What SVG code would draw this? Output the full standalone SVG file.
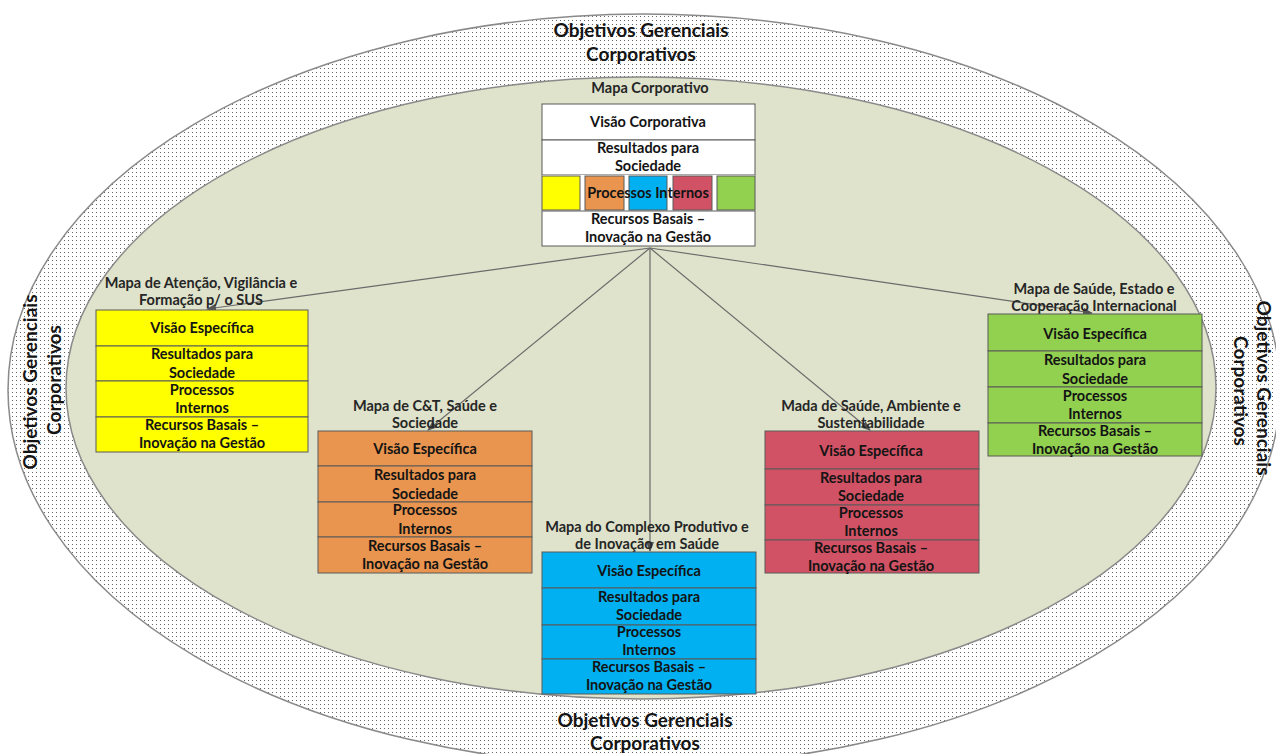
<svg xmlns="http://www.w3.org/2000/svg" width="1276" height="754" viewBox="0 0 1276 754">
<style>
.t{font-family:Lato,"Liberation Sans",sans-serif;font-weight:bold;font-size:14.5px;fill:#141414;text-anchor:middle}
.lbl{font-family:Lato,"Liberation Sans",sans-serif;font-weight:bold;font-size:14.5px;fill:#262626;text-anchor:middle}
.big{font-family:Lato,"Liberation Sans",sans-serif;font-weight:bold;font-size:19px;fill:#141414;text-anchor:middle}
.row{stroke:#5a5a5a;stroke-width:1}
.y{fill:#ffff00}.o{fill:#ea954f}.b{fill:#00b0f0}.r{fill:#d15264}.g{fill:#92d050}.w{fill:#ffffff}
.conn{stroke:#6a6a6a;stroke-width:1.2;fill:none}
</style>
<defs>
<pattern id="dots" width="4" height="4" patternUnits="userSpaceOnUse">
<rect width="4" height="4" fill="#ffffff"/>
<rect x="0" y="0" width="1" height="1" fill="#666"/>
</pattern>
<marker id="arr" markerWidth="10" markerHeight="8" refX="9" refY="4" orient="auto" markerUnits="userSpaceOnUse">
<path d="M0,0 L10,4 L0,8 Z" fill="#555"/>
</marker>
</defs>
<rect width="1276" height="754" fill="#ffffff"/>
<g id="outer">
<ellipse cx="644" cy="390" rx="636" ry="376" fill="url(#dots)" stroke="#8a8a8a" stroke-width="1.5"/>
<text class="big" x="641" y="37">Objetivos Gerenciais</text>
<text class="big" x="641" y="61">Corporativos</text>
<text class="big" x="645" y="727">Objetivos Gerenciais</text>
<text class="big" x="645" y="750">Corporativos</text>
<text class="big" transform="translate(37,382) rotate(-90)">Objetivos Gerenciais</text>
<text class="big" transform="translate(61,380) rotate(-90)">Corporativos</text>
<text class="big" transform="translate(1257,388) rotate(90)">Objetivos Gerenciais</text>
<text class="big" transform="translate(1234,391) rotate(90)">Corporativos</text>
</g>
<g id="inner">
<ellipse cx="641" cy="388" rx="575" ry="311" fill="#dfe3cb" stroke="#8a8a8a" stroke-width="1.5"/>
</g>
<g id="corporativo">
<text class="lbl" x="650" y="93">Mapa Corporativo</text>
<rect class="row w" x="542" y="104" width="213" height="36"/>
<rect class="row w" x="542" y="140" width="213" height="35"/>
<rect class="w" x="542" y="175" width="213" height="36" stroke="none"/>
<rect class="row y" x="542" y="176" width="38" height="34"/>
<rect class="row o" x="585" y="176" width="39" height="34"/>
<rect class="row b" x="629" y="176" width="38" height="34"/>
<rect class="row r" x="673" y="176" width="39" height="34"/>
<rect class="row g" x="717" y="176" width="38" height="34"/>
<rect class="row w" x="542" y="211" width="213" height="35"/>
<text class="t" x="648" y="127">Visão Corporativa</text>
<text class="t" x="648" y="153">Resultados para</text>
<text class="t" x="648" y="171">Sociedade</text>
<text class="t" x="648" y="198">Processos Internos</text>
<text class="t" x="648" y="224">Recursos Basais –</text>
<text class="t" x="648" y="242">Inovação na Gestão</text>
</g>
<g id="connectors">
<line class="conn" x1="650" y1="248" x2="207" y2="309" marker-end="url(#arr)"/>
<line class="conn" x1="650" y1="248" x2="428" y2="430" marker-end="url(#arr)"/>
<line class="conn" x1="650" y1="248" x2="650" y2="551" marker-end="url(#arr)"/>
<line class="conn" x1="650" y1="248" x2="870" y2="430" marker-end="url(#arr)"/>
<line class="conn" x1="650" y1="248" x2="1092" y2="313" marker-end="url(#arr)"/>
</g>
<g id="atencao">
<text class="lbl" x="201" y="288">Mapa de Atenção, Vigilância e</text>
<text class="lbl" x="201" y="305">Formação p/ o SUS</text>
<rect class="row y" x="96" y="310" width="212" height="36"/>
<rect class="row y" x="96" y="346" width="212" height="35"/>
<rect class="row y" x="96" y="381" width="212" height="36"/>
<rect class="row y" x="96" y="417" width="212" height="35"/>
<text class="t" x="202" y="333">Visão Específica</text>
<text class="t" x="202" y="359">Resultados para</text>
<text class="t" x="202" y="378">Sociedade</text>
<text class="t" x="202" y="395">Processos</text>
<text class="t" x="202" y="413">Internos</text>
<text class="t" x="202" y="430">Recursos Basais –</text>
<text class="t" x="202" y="448">Inovação na Gestão</text>
</g>
<g id="ct">
<text class="lbl" x="425" y="411">Mapa de C&amp;T, Saúde e</text>
<text class="lbl" x="425" y="428">Sociedade</text>
<rect class="row o" x="318" y="431" width="214" height="35"/>
<rect class="row o" x="318" y="466" width="214" height="36"/>
<rect class="row o" x="318" y="502" width="214" height="35"/>
<rect class="row o" x="318" y="537" width="214" height="36"/>
<text class="t" x="425" y="454">Visão Específica</text>
<text class="t" x="425" y="480">Resultados para</text>
<text class="t" x="425" y="499">Sociedade</text>
<text class="t" x="425" y="515">Processos</text>
<text class="t" x="425" y="534">Internos</text>
<text class="t" x="425" y="551">Recursos Basais –</text>
<text class="t" x="425" y="569">Inovação na Gestão</text>
</g>
<g id="complexo">
<text class="lbl" x="647" y="532">Mapa do Complexo Produtivo e</text>
<text class="lbl" x="647" y="549">de Inovação em Saúde</text>
<rect class="row b" x="542" y="552" width="214" height="36"/>
<rect class="row b" x="542" y="588" width="214" height="37"/>
<rect class="row b" x="542" y="625" width="214" height="34"/>
<rect class="row b" x="542" y="659" width="214" height="35"/>
<text class="t" x="649" y="576">Visão Específica</text>
<text class="t" x="649" y="602">Resultados para</text>
<text class="t" x="649" y="620">Sociedade</text>
<text class="t" x="649" y="637">Processos</text>
<text class="t" x="649" y="655">Internos</text>
<text class="t" x="649" y="672">Recursos Basais –</text>
<text class="t" x="649" y="690">Inovação na Gestão</text>
</g>
<g id="ambiente">
<text class="lbl" x="871" y="411">Mada de Saúde, Ambiente e</text>
<text class="lbl" x="871" y="428">Sustentabilidade</text>
<rect class="row r" x="765" y="431" width="214" height="38"/>
<rect class="row r" x="765" y="469" width="214" height="36"/>
<rect class="row r" x="765" y="505" width="214" height="35"/>
<rect class="row r" x="765" y="540" width="214" height="33"/>
<text class="t" x="871" y="456">Visão Específica</text>
<text class="t" x="871" y="483">Resultados para</text>
<text class="t" x="871" y="501">Sociedade</text>
<text class="t" x="871" y="518">Processos</text>
<text class="t" x="871" y="536">Internos</text>
<text class="t" x="871" y="553">Recursos Basais –</text>
<text class="t" x="871" y="571">Inovação na Gestão</text>
</g>
<g id="estado">
<text class="lbl" x="1094" y="294">Mapa de Saúde, Estado e</text>
<text class="lbl" x="1094" y="311">Cooperação Internacional</text>
<rect class="row g" x="988" y="314" width="214" height="37"/>
<rect class="row g" x="988" y="351" width="214" height="36"/>
<rect class="row g" x="988" y="387" width="214" height="36"/>
<rect class="row g" x="988" y="423" width="214" height="33"/>
<text class="t" x="1095" y="339">Visão Específica</text>
<text class="t" x="1095" y="365">Resultados para</text>
<text class="t" x="1095" y="384">Sociedade</text>
<text class="t" x="1095" y="401">Processos</text>
<text class="t" x="1095" y="419">Internos</text>
<text class="t" x="1095" y="436">Recursos Basais –</text>
<text class="t" x="1095" y="454">Inovação na Gestão</text>
</g>
</svg>
